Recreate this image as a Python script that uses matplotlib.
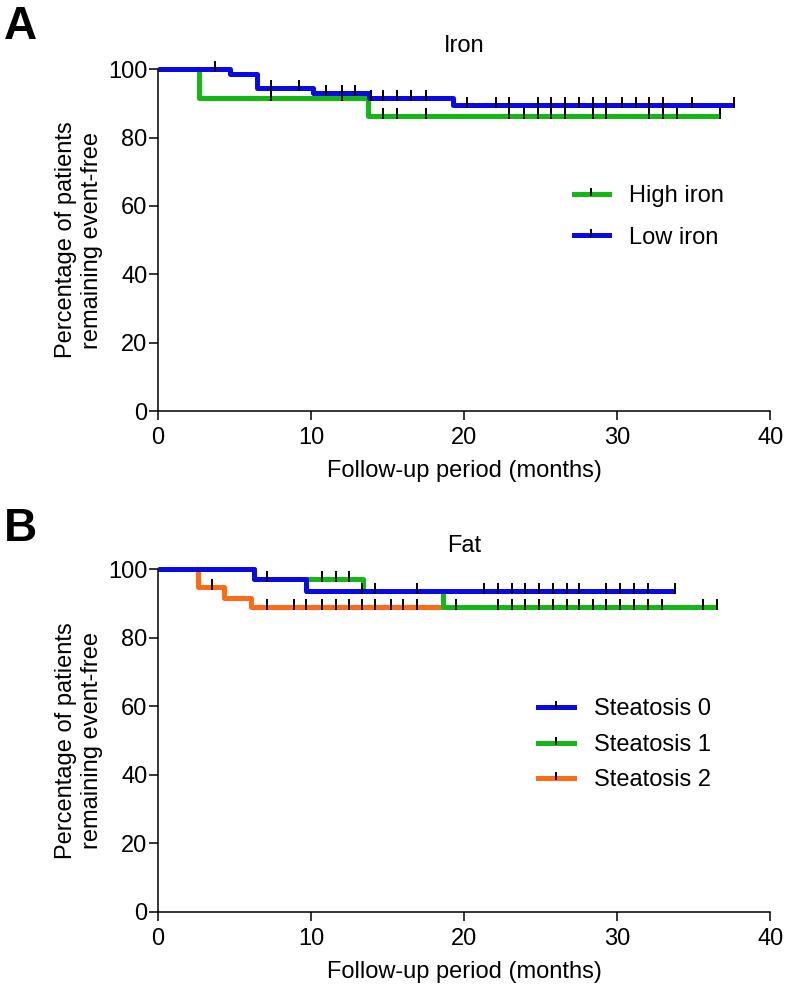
import matplotlib
matplotlib.use("Agg")
import matplotlib.pyplot as plt
import numpy as np
from matplotlib.path import Path
from matplotlib.lines import Line2D
from matplotlib.legend_handler import HandlerTuple

plt.rcParams['font.family'] = ['Liberation Sans', 'DejaVu Sans']

# Panel A: iron
high_iron_t = [0, 2.7, 13.7, 36.7]
high_iron_s = [100, 91.5, 86.4, 86.4]
high_iron_cens = [7.4, 12.0, 14.7, 15.6, 17.5, 22.9, 23.9, 24.8, 25.7, 26.6,
                  28.4, 29.3, 32.1, 33.0, 33.9, 36.7]
low_iron_t = [0, 4.7, 6.5, 10.1, 13.8, 19.3, 37.6]
low_iron_s = [100, 98.6, 94.4, 93.0, 91.5, 89.5, 89.5]
low_iron_cens = [3.7, 7.4, 9.2, 11.0, 12.0, 12.9, 13.9, 14.7, 15.6, 16.5, 17.5,
                 20.2, 22.1, 22.9, 24.8, 25.7, 26.6, 27.5, 28.4, 29.3, 30.3,
                 31.2, 32.1, 33.0, 34.9, 37.6]

# Panel B: fat
st0_t = [0, 6.3, 9.7, 33.8]
st0_s = [100, 97.0, 93.5, 93.5]
st0_cens = [7.1, 13.3, 14.2, 16.9, 21.3, 22.2, 23.1, 24.0, 24.9, 25.8, 26.7,
            27.5, 29.3, 30.2, 31.1, 32.0, 33.8]
st1_t = [0, 6.3, 13.4, 18.6, 36.5]
st1_s = [100, 97.0, 93.5, 89.0, 89.0]
st1_cens = [10.7, 11.6, 12.5, 19.5, 22.2, 23.1, 24.0, 24.9, 25.8, 26.7, 27.5,
            28.4, 29.3, 30.2, 31.1, 32.0, 32.9, 35.6, 36.5]
st2_t = [0, 2.6, 4.3, 6.1, 18.6]
st2_s = [100, 94.7, 91.5, 89.0, 89.0]
st2_cens = [3.5, 7.1, 8.9, 9.7, 10.7, 11.6, 12.5, 13.3, 14.2, 15.2, 16.0, 16.9]

BLUE = '#0a0ae6'
GREEN = '#14b814'
ORANGE = '#ff6a14'

tick_mark = Path([(0, -0.35), (0, 1.0)], [Path.MOVETO, Path.LINETO])


def km(ax, t, s, cens, color, label):
    ax.step(t, s, where='post', color=color, lw=3.6, clip_on=False,
            solid_capstyle='butt')
    cy = [s[np.searchsorted(t, c, side='right') - 1] for c in cens]
    ax.plot(cens, cy, ls='none', marker=tick_mark, ms=11, mew=1.4,
            color='black', clip_on=False, zorder=5)
    h = (Line2D([], [], color=color, lw=3.6),
         Line2D([], [], ls='none', marker=tick_mark, ms=9, mew=1.4,
                color='black'))
    return h, label


def style(ax, title):
    ax.set_xlim(0, 40)
    ax.set_ylim(0, 100)
    ax.set_xticks([0, 10, 20, 30, 40])
    ax.set_yticks([0, 20, 40, 60, 80, 100])
    for sp in ['top', 'right']:
        ax.spines[sp].set_visible(False)
    for sp in ['left', 'bottom']:
        ax.spines[sp].set_linewidth(1.1)
    ax.tick_params(width=1.1, length=6.5, labelsize=17)
    ax.tick_params(axis='x', pad=5)
    ax.tick_params(axis='y', pad=1)
    ax.set_xlabel('Follow-up period (months)', fontsize=17, labelpad=8)
    ax.set_ylabel('Percentage of patients\nremaining event-free', fontsize=17,
                  labelpad=4)
    ax.set_title(title, fontsize=17, pad=12)


fig = plt.figure(figsize=(7.86, 9.88), dpi=100)
ax1 = fig.add_axes([0.201, 0.584, 0.779, 0.346])
ax2 = fig.add_axes([0.201, 0.077, 0.779, 0.347])

hA = []
hA.append(km(ax1, high_iron_t, high_iron_s, high_iron_cens, GREEN, 'High iron'))
hA.append(km(ax1, low_iron_t, low_iron_s, low_iron_cens, BLUE, 'Low iron'))
style(ax1, 'Iron')
ax1.legend([h for h, l in hA], [l for h, l in hA],
           handler_map={tuple: HandlerTuple(ndivide=1)},
           loc='upper left', bbox_to_anchor=(0.679, 0.66), frameon=False,
           borderpad=0, borderaxespad=0,
           fontsize=17, handlelength=1.5, labelspacing=0.82, handletextpad=0.85)

hB = []
hB.append(km(ax2, st2_t, st2_s, st2_cens, ORANGE, 'Steatosis 2'))
hB.append(km(ax2, st1_t, st1_s, st1_cens, GREEN, 'Steatosis 1'))
hB.append(km(ax2, st0_t, st0_s, st0_cens, BLUE, 'Steatosis 0'))
style(ax2, 'Fat')
hB = hB[::-1]
ax2.legend([h for h, l in hB], [l for h, l in hB],
           handler_map={tuple: HandlerTuple(ndivide=1)},
           loc='upper left', bbox_to_anchor=(0.621, 0.623), frameon=False,
           borderpad=0, borderaxespad=0,
           fontsize=17, handlelength=1.5, labelspacing=0.57, handletextpad=0.85)

fig.text(0.005, 0.995, 'A', fontsize=33, fontweight='bold', va='top')
fig.text(0.005, 0.487, 'B', fontsize=33, fontweight='bold', va='top')

fig.savefig('out.png', dpi=100)
